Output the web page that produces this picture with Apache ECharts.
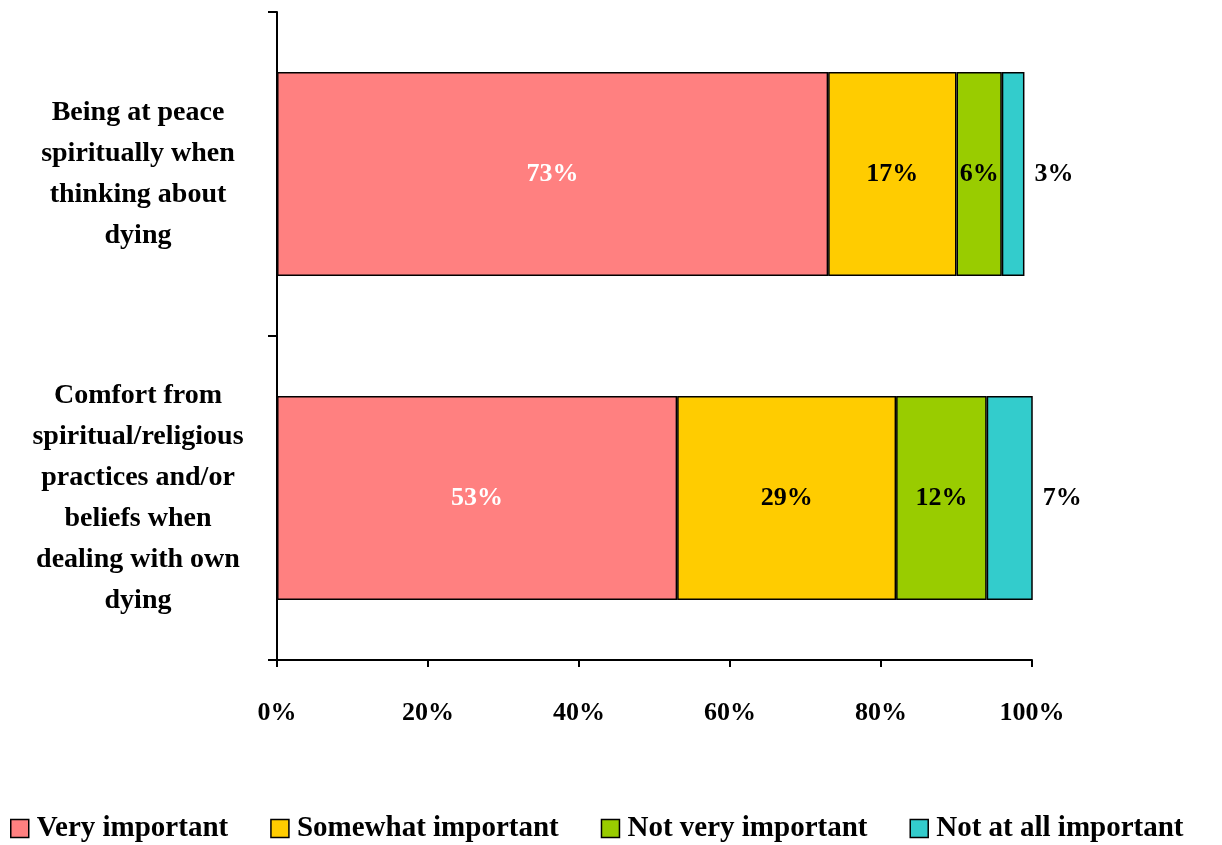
<!DOCTYPE html>
<html>
<head>
<meta charset="utf-8">
<script src="https://cdn.jsdelivr.net/npm/echarts@6/dist/echarts.min.js"></script>
<style>
  html, body { margin: 0; padding: 0; background: #fff; }
  #chart { width: 1222px; height: 845px; }
</style>
</head>
<body>
<div id="chart"></div>
<script>
// Survey items (bottom to top on the category axis)
const categories = [
  'Comfort from\nspiritual/religious\npractices and/or\nbeliefs when\ndealing with own\ndying',
  'Being at peace\nspiritually when\nthinking about\ndying'
];
const seriesNames = ['Very important', 'Somewhat important', 'Not very important', 'Not at all important'];
const veryImportant = [53, 73];
const somewhatImportant = [29, 17];
const notVeryImportant = [12, 6];
const notAtAllImportant = [7, 3];
const xTicks = [0, 20, 40, 60, 80, 100];

const colors = ['#FF8080', '#FFCC00', '#99CC00', '#33CCCC'];
const labelColors = ['#ffffff', '#000000', '#000000', '#000000'];
const values = [veryImportant, somewhatImportant, notVeryImportant, notAtAllImportant];
const FONT = '"Liberation Serif", "DejaVu Serif", serif';

const series = seriesNames.map((name, i) => ({
  name,
  type: 'bar',
  stack: 'total',
  barCategoryGap: '37%',
  clip: true,
  data: values[i],
  itemStyle: { color: colors[i], borderColor: '#000', borderWidth: 1.5 },
  label: {
    show: true,
    position: i === 3 ? 'right' : 'inside',
    distance: 10,
    formatter: '{c}%',
    color: labelColors[i],
    fontFamily: FONT,
    fontWeight: 'bold',
    fontSize: 26
  },
  emphasis: { disabled: true }
}));

const chart = echarts.init(document.getElementById('chart'), null, { renderer: 'canvas' });
chart.setOption({
  animation: false,
  grid: { left: 277, right: 190, top: 12, bottom: 185, containLabel: false },
  legend: {
    bottom: -3,
    left: 5,
    itemWidth: 18,
    itemHeight: 18,
    itemGap: 42,
    icon: 'rect',
    textStyle: { fontFamily: FONT, fontWeight: 'bold', fontSize: 29, color: '#000', padding: [0, 0, 0, 3] },
    itemStyle: { borderColor: '#000', borderWidth: 1.5 },
    data: seriesNames
  },
  xAxis: {
    type: 'value',
    min: 0,
    max: 100,
    interval: 20,
    axisLine: { show: true, lineStyle: { color: '#000', width: 2 } },
    axisTick: { show: true, length: 7, lineStyle: { color: '#000', width: 2 } },
    splitLine: { show: false },
    axisLabel: {
      margin: 40,
      color: '#000',
      fontFamily: FONT,
      fontWeight: 'bold',
      fontSize: 26,
      formatter: v => xTicks.includes(v) ? v + '%' : ''
    }
  },
  yAxis: {
    type: 'category',
    data: categories,
    axisLine: { show: true, lineStyle: { color: '#000', width: 2 } },
    axisTick: { show: true, length: 9, lineStyle: { color: '#000', width: 2 } },
    axisLabel: {
      margin: 139,
      align: 'center',
      color: '#000',
      fontFamily: FONT,
      fontWeight: 'bold',
      fontSize: 28,
      lineHeight: 41
    }
  },
  series
});
</script>
</body>
</html>
